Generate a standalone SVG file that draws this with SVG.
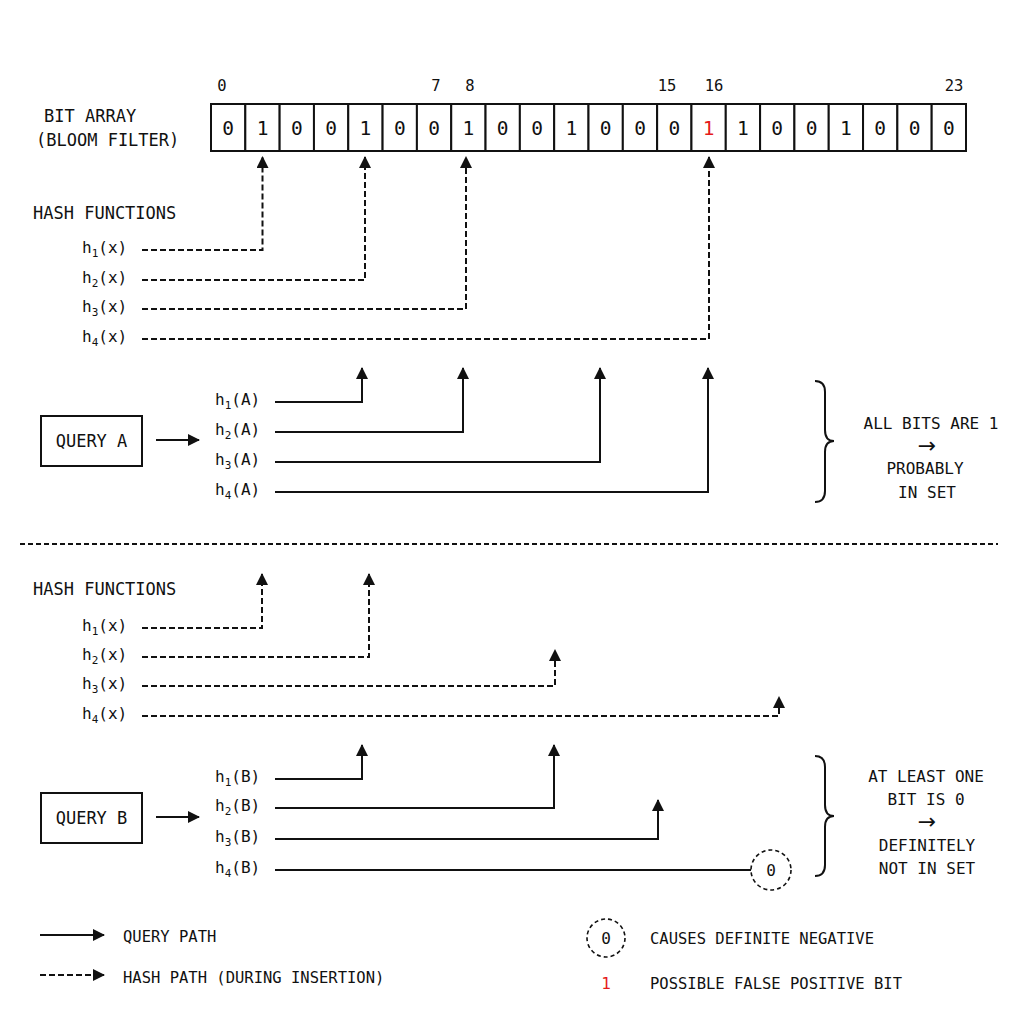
<svg xmlns="http://www.w3.org/2000/svg" width="1024" height="1024" viewBox="0 0 1024 1024">
<style>
text{font-family:"DejaVu Sans Mono","Liberation Mono",monospace;fill:#111}
.lbl{font-size:17px}
.idx{font-size:15.5px;text-anchor:middle}
.bit{font-size:19.5px;text-anchor:middle;dominant-baseline:central}
.h{font-size:16px}
.sub{font-size:11px}
.res{font-size:16px;text-anchor:middle}
.arr{font-family:"DejaVu Sans",sans-serif;font-size:22px;text-anchor:middle}
.leg{font-size:15.5px}
.cell{fill:#fff;stroke:#111;stroke-width:2}
.box{fill:#fff;stroke:#111;stroke-width:2}
.solid{fill:none;stroke:#111;stroke-width:2}
.dash{fill:none;stroke:#111;stroke-width:2;stroke-dasharray:6 3}
.sep{fill:none;stroke:#111;stroke-width:2;stroke-dasharray:5 3}
.circ{fill:#fff;stroke:#111;stroke-width:1.6;stroke-dasharray:4 3}
.red{fill:#e51b1b}
.brace{fill:none;stroke:#111;stroke-width:2}
</style>
<defs>
<marker id="ah" markerUnits="userSpaceOnUse" markerWidth="12" markerHeight="12" refX="11" refY="6" orient="auto">
<path d="M0,0 L12,6 L0,12 z" fill="#111"/>
</marker>
</defs>
<rect width="1024" height="1024" fill="#fff"/>

<g id="bit-array">
<text class="lbl" x="44" y="122">BIT ARRAY</text>
<text class="lbl" x="36" y="146">(BLOOM FILTER)</text>
<text class="idx" x="222" y="91">0</text>
<text class="idx" x="436" y="91">7</text>
<text class="idx" x="470" y="91">8</text>
<text class="idx" x="667" y="91">15</text>
<text class="idx" x="714" y="91">16</text>
<text class="idx" x="954" y="91">23</text>
<rect class="cell" x="211" y="104" width="34.32" height="47"/>
<rect class="cell" x="245.32" y="104" width="34.32" height="47"/>
<rect class="cell" x="279.64" y="104" width="34.32" height="47"/>
<rect class="cell" x="313.95" y="104" width="34.32" height="47"/>
<rect class="cell" x="348.27" y="104" width="34.32" height="47"/>
<rect class="cell" x="382.59" y="104" width="34.32" height="47"/>
<rect class="cell" x="416.91" y="104" width="34.32" height="47"/>
<rect class="cell" x="451.23" y="104" width="34.32" height="47"/>
<rect class="cell" x="485.55" y="104" width="34.32" height="47"/>
<rect class="cell" x="519.86" y="104" width="34.32" height="47"/>
<rect class="cell" x="554.18" y="104" width="34.32" height="47"/>
<rect class="cell" x="588.5" y="104" width="34.32" height="47"/>
<rect class="cell" x="622.82" y="104" width="34.32" height="47"/>
<rect class="cell" x="657.14" y="104" width="34.32" height="47"/>
<rect class="cell" x="691.45" y="104" width="34.32" height="47"/>
<rect class="cell" x="725.77" y="104" width="34.32" height="47"/>
<rect class="cell" x="760.09" y="104" width="34.32" height="47"/>
<rect class="cell" x="794.41" y="104" width="34.32" height="47"/>
<rect class="cell" x="828.73" y="104" width="34.32" height="47"/>
<rect class="cell" x="863.05" y="104" width="34.32" height="47"/>
<rect class="cell" x="897.36" y="104" width="34.32" height="47"/>
<rect class="cell" x="931.68" y="104" width="34.32" height="47"/>
<text class="bit" x="228.2" y="128">0</text>
<text class="bit" x="262.5" y="128">1</text>
<text class="bit" x="296.8" y="128">0</text>
<text class="bit" x="331.1" y="128">0</text>
<text class="bit" x="365.4" y="128">1</text>
<text class="bit" x="399.8" y="128">0</text>
<text class="bit" x="434.1" y="128">0</text>
<text class="bit" x="468.4" y="128">1</text>
<text class="bit" x="502.7" y="128">0</text>
<text class="bit" x="537.0" y="128">0</text>
<text class="bit" x="571.3" y="128">1</text>
<text class="bit" x="605.7" y="128">0</text>
<text class="bit" x="640.0" y="128">0</text>
<text class="bit" x="674.3" y="128">0</text>
<text class="bit red" x="708.6" y="128">1</text>
<text class="bit" x="742.9" y="128">1</text>
<text class="bit" x="777.2" y="128">0</text>
<text class="bit" x="811.5" y="128">0</text>
<text class="bit" x="845.9" y="128">1</text>
<text class="bit" x="880.2" y="128">0</text>
<text class="bit" x="914.5" y="128">0</text>
<text class="bit" x="948.8" y="128">0</text>
</g>

<g id="hash-functions-top">
<text class="lbl" x="33" y="219">HASH FUNCTIONS</text>
<text class="h" x="82" y="253">h<tspan class="sub" dy="4">1</tspan><tspan dy="-4">(x)</tspan></text>
<text class="h" x="82" y="283">h<tspan class="sub" dy="4">2</tspan><tspan dy="-4">(x)</tspan></text>
<text class="h" x="82" y="312">h<tspan class="sub" dy="4">3</tspan><tspan dy="-4">(x)</tspan></text>
<text class="h" x="82" y="342">h<tspan class="sub" dy="4">4</tspan><tspan dy="-4">(x)</tspan></text>
</g>

<g id="query-a">
<rect class="box" x="41" y="416" width="101" height="50"/>
<text class="lbl" x="91.5" y="447" text-anchor="middle">QUERY A</text>
<text class="h" x="215" y="405">h<tspan class="sub" dy="4">1</tspan><tspan dy="-4">(A)</tspan></text>
<text class="h" x="215" y="435">h<tspan class="sub" dy="4">2</tspan><tspan dy="-4">(A)</tspan></text>
<text class="h" x="215" y="465">h<tspan class="sub" dy="4">3</tspan><tspan dy="-4">(A)</tspan></text>
<text class="h" x="215" y="495">h<tspan class="sub" dy="4">4</tspan><tspan dy="-4">(A)</tspan></text>
</g>

<g id="result-a">
<path class="brace" d="M815,381 Q825,381 825,392 L825,430 Q825,441 834,441 Q825,441 825,452 L825,491 Q825,502 815,502"/>
<text class="res" x="931" y="429">ALL BITS ARE 1</text>
<text class="arr" x="927" y="453">→</text>
<text class="res" x="925" y="474">PROBABLY</text>
<text class="res" x="927" y="498">IN SET</text>
</g>

<g id="separator">
<line class="sep" x1="20" y1="544" x2="998" y2="544"/>
</g>

<g id="hash-functions-bottom">
<text class="lbl" x="33" y="595">HASH FUNCTIONS</text>
<text class="h" x="82" y="631">h<tspan class="sub" dy="4">1</tspan><tspan dy="-4">(x)</tspan></text>
<text class="h" x="82" y="660">h<tspan class="sub" dy="4">2</tspan><tspan dy="-4">(x)</tspan></text>
<text class="h" x="82" y="689">h<tspan class="sub" dy="4">3</tspan><tspan dy="-4">(x)</tspan></text>
<text class="h" x="82" y="719">h<tspan class="sub" dy="4">4</tspan><tspan dy="-4">(x)</tspan></text>
</g>

<g id="query-b">
<rect class="box" x="41" y="793" width="101" height="50"/>
<text class="lbl" x="91.5" y="824" text-anchor="middle">QUERY B</text>
<text class="h" x="215" y="782">h<tspan class="sub" dy="4">1</tspan><tspan dy="-4">(B)</tspan></text>
<text class="h" x="215" y="811">h<tspan class="sub" dy="4">2</tspan><tspan dy="-4">(B)</tspan></text>
<text class="h" x="215" y="842">h<tspan class="sub" dy="4">3</tspan><tspan dy="-4">(B)</tspan></text>
<text class="h" x="215" y="873">h<tspan class="sub" dy="4">4</tspan><tspan dy="-4">(B)</tspan></text>
</g>

<g id="zero-bit-b">
<circle class="circ" cx="771" cy="870" r="20"/>
<text class="h" x="771" y="876" text-anchor="middle">0</text>
</g>

<g id="result-b">
<path class="brace" d="M815,756 Q825,756 825,767 L825,805 Q825,816 834,816 Q825,816 825,827 L825,865 Q825,876 815,876"/>
<text class="res" x="926" y="782">AT LEAST ONE</text>
<text class="res" x="926" y="805">BIT IS 0</text>
<text class="arr" x="927" y="829">→</text>
<text class="res" x="927" y="851">DEFINITELY</text>
<text class="res" x="927" y="874">NOT IN SET</text>
</g>

<g id="connectors">
<path class="dash" d="M142,250 H262.5 V157" marker-end="url(#ah)"/>
<path class="dash" d="M142,280 H365 V157" marker-end="url(#ah)"/>
<path class="dash" d="M142,309 H466 V157" marker-end="url(#ah)"/>
<path class="dash" d="M142,339 H709 V157" marker-end="url(#ah)"/>
<line class="solid" x1="156" y1="440" x2="199" y2="440" marker-end="url(#ah)"/>
<path class="solid" d="M275,402 H362 V368" marker-end="url(#ah)"/>
<path class="solid" d="M275,432 H463 V368" marker-end="url(#ah)"/>
<path class="solid" d="M275,462 H600 V368" marker-end="url(#ah)"/>
<path class="solid" d="M275,492 H708 V368" marker-end="url(#ah)"/>
<path class="dash" d="M142,628 H262 V574" marker-end="url(#ah)"/>
<path class="dash" d="M142,657 H369 V574" marker-end="url(#ah)"/>
<path class="dash" d="M142,686 H555 V650" marker-end="url(#ah)"/>
<path class="dash" d="M142,716 H779 V697" marker-end="url(#ah)"/>
<line class="solid" x1="156" y1="817" x2="199" y2="817" marker-end="url(#ah)"/>
<path class="solid" d="M275,779 H362 V745" marker-end="url(#ah)"/>
<path class="solid" d="M275,808 H554 V745" marker-end="url(#ah)"/>
<path class="solid" d="M275,839 H658 V800" marker-end="url(#ah)"/>
<line class="solid" x1="275" y1="870" x2="751" y2="870"/>
</g>

<g id="legend">
<line class="solid" x1="40" y1="935" x2="104" y2="935" marker-end="url(#ah)"/>
<text class="leg" x="123" y="942">QUERY PATH</text>
<line class="dash" x1="40" y1="975" x2="104" y2="975" marker-end="url(#ah)"/>
<text class="leg" x="123" y="983">HASH PATH (DURING INSERTION)</text>
<circle class="circ" cx="606" cy="938" r="19"/>
<text class="h" x="606" y="944" text-anchor="middle">0</text>
<text class="leg" x="650" y="944">CAUSES DEFINITE NEGATIVE</text>
<text class="h red" x="606" y="989" text-anchor="middle">1</text>
<text class="leg" x="650" y="989">POSSIBLE FALSE POSITIVE BIT</text>
</g>
</svg>
